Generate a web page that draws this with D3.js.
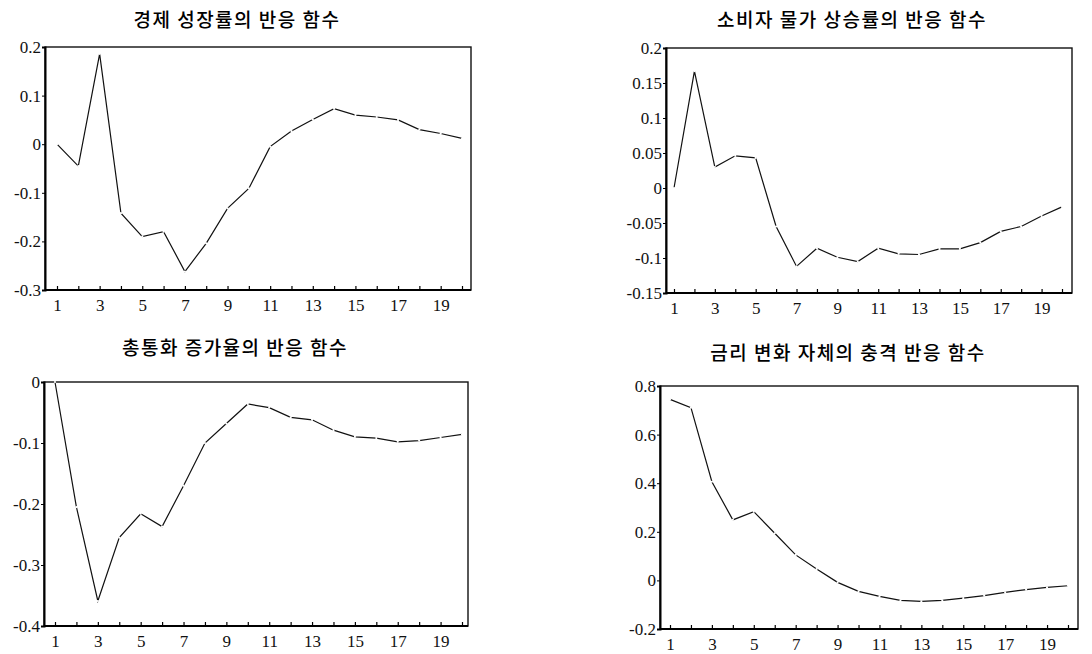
<!DOCTYPE html>
<html>
<head>
<meta charset="utf-8">
<script src="https://cdn.jsdelivr.net/npm/d3@7"></script>
<style>
  body { margin: 0; background: #fff; }
  .title { font-family: "Noto Sans CJK KR", "Noto Sans", sans-serif; font-size: 19px; letter-spacing: 1.5px; font-weight: 500; }
</style>
</head>
<body>
<div id="chart"></div>
<script>
var svgWidth = 1092;
var svgHeight = 654;

// periods 1..20
var periods = d3.range(1, 21);
var xTickLabels = [1, 3, 5, 7, 9, 11, 13, 15, 17, 19];

// 경제 성장률
var growth = [0.000, -0.045, 0.186, -0.142, -0.190, -0.180, -0.262, -0.204, -0.132, -0.091,
              -0.005, 0.027, 0.051, 0.073, 0.060, 0.056, 0.050, 0.030, 0.022, 0.012];
var growthTicks = [0.2, 0.1, 0, -0.1, -0.2, -0.3];

// 소비자 물가 상승률
var inflation = [0.000, 0.167, 0.030, 0.046, 0.043, -0.055, -0.112, -0.086, -0.099, -0.105,
                 -0.086, -0.094, -0.095, -0.087, -0.087, -0.078, -0.062, -0.055, -0.040, -0.027];
var inflationTicks = [0.2, 0.15, 0.1, 0.05, 0, -0.05, -0.1, -0.15];

// 총통화 증가율
var money = [0.000, -0.205, -0.359, -0.255, -0.216, -0.237, -0.170, -0.100, -0.068, -0.036,
             -0.042, -0.058, -0.062, -0.079, -0.090, -0.092, -0.098, -0.096, -0.091, -0.086];
var moneyTicks = [0, -0.1, -0.2, -0.3, -0.4];

// 금리 변화 자체
var rate = [0.745, 0.711, 0.406, 0.249, 0.283, 0.194, 0.105, 0.047, -0.008, -0.045,
            -0.066, -0.082, -0.086, -0.082, -0.073, -0.063, -0.049, -0.038, -0.029, -0.022];
var rateTicks = [0.8, 0.6, 0.4, 0.2, 0, -0.2];

var svg = d3.select("#chart")
  .append("svg")
  .attr("width", svgWidth)
  .attr("height", svgHeight);

var serif = "'Liberation Serif', 'DejaVu Serif', serif";

function drawPanel(title, values, yTicks, box) {
  var g = svg.append("g");

  var x = d3.scaleLinear()
    .domain([1, 20])
    .range([box.x1, box.x20]);

  var y = d3.scaleLinear()
    .domain([d3.min(yTicks), d3.max(yTicks)])
    .range([box.bottom, box.top]);

  // title
  g.append("text")
    .attr("class", "title")
    .attr("x", box.titleX)
    .attr("y", box.titleY)
    .attr("text-anchor", "middle")
    .text(title);

  // frame
  g.append("rect")
    .attr("x", box.left)
    .attr("y", box.top)
    .attr("width", box.right - box.left)
    .attr("height", box.bottom - box.top)
    .attr("fill", "none")
    .attr("stroke", "#111")
    .attr("stroke-width", 1.4);

  // x axis: small tick at every period, labels on odd ones
  var bottomAxis = d3.axisBottom(x)
    .tickValues(periods)
    .tickSize(-4)
    .tickPadding(9)
    .tickFormat(d => xTickLabels.indexOf(d) >= 0 ? d : "");

  var xAxis = g.append("g")
    .attr("transform", `translate(0, ${box.bottom})`)
    .call(bottomAxis)
    .attr("font-family", serif)
    .attr("font-size", 17);
  xAxis.select(".domain")
    .attr("d", `M${box.left},0H${box.right}`)
    .attr("stroke-width", 2);
  xAxis.selectAll(".tick line").attr("stroke-width", 1.2);
  xAxis.selectAll(".tick text").attr("fill", "#111");

  var leftAxis = d3.axisLeft(y)
    .tickValues(yTicks)
    .tickSize(3)
    .tickPadding(1)
    .tickFormat(d => String(d));

  var yAxis = g.append("g")
    .attr("transform", `translate(${box.left}, 0)`)
    .call(leftAxis)
    .attr("font-family", serif)
    .attr("font-size", 17);
  yAxis.select(".domain").attr("stroke-width", 2);
  yAxis.selectAll(".tick text").attr("fill", "#111");

  // response line
  var line = d3.line()
    .x((d, i) => x(periods[i]))
    .y(d => y(d));

  g.append("path")
    .datum(values)
    .attr("d", line)
    .attr("fill", "none")
    .attr("stroke", "#111")
    .attr("stroke-width", 1.2);

  // little breaks at each period, as in the printed figure
  g.selectAll(".gap")
    .data(values)
    .enter()
    .append("circle")
    .attr("cx", (d, i) => x(periods[i]))
    .attr("cy", d => y(d))
    .attr("r", 1.1)
    .attr("fill", "#fff");
}

drawPanel("경제 성장률의 반응 함수", growth, growthTicks,
  { left: 45, right: 471, top: 47, bottom: 290, x1: 57, x20: 462, titleX: 237, titleY: 27 });

drawPanel("소비자 물가 상승률의 반응 함수", inflation, inflationTicks,
  { left: 666, right: 1072, top: 48, bottom: 293, x1: 674, x20: 1062, titleX: 852, titleY: 27 });

drawPanel("총통화 증가율의 반응 함수", money, moneyTicks,
  { left: 44, right: 468, top: 382, bottom: 626, x1: 55, x20: 462, titleX: 235, titleY: 355 });

drawPanel("금리 변화 자체의 충격 반응 함수", rate, rateTicks,
  { left: 660, right: 1078, top: 386, bottom: 629, x1: 670, x20: 1068, titleX: 848, titleY: 360 });
</script>
</body>
</html>
